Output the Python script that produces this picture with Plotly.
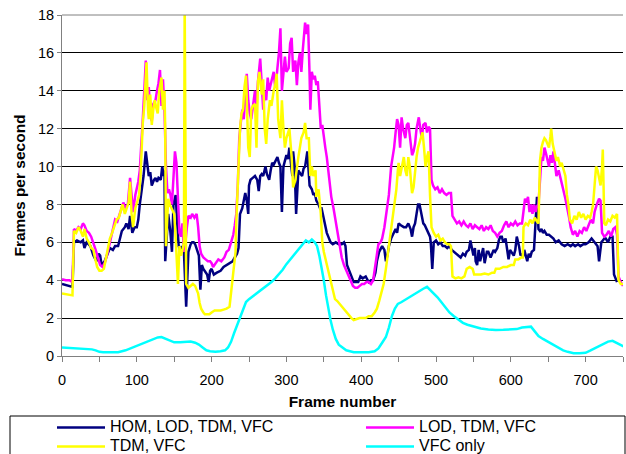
import plotly.graph_objects as go

# ---------------- data ----------------
hom_frames = [0,5,10,14,16,20,25,28,30,33,38,42,46,49,51,53,57,60,64,68,71,75,77,80,84,86,89,91,94,97,100,102,104,107,109,112,114,116,118,120,123,125,127,129,132,134,136,137,138,140,142,145,147,149,152,154,156,158,160,163,166,169,172,174,176,178,181,183,185,187,189,191,194,196,198,200,203,207,212,216,220,224,228,231,234,236,238,241,243,245,247,249,250,252,255,258,261,263,265,267,269,272,274,277,279,281,283,286,288,290,292,294,296,298,300,302,304,306,308,309,311,313,316,319,321,323,325,328,331,334,336,338,340,343,345,347,350,352,354,356,359,362,366,370,374,377,379,381,383,385,388,390,393,396,399,402,406,410,413,416,419,421,424,426,428,431,433,435,437,440,443,446,448,450,453,457,460,463,466,468,470,472,474,476,478,479,481,483,485,487,490,492,493,495,497,500,503,506,509,512,515,518,521,524,527,530,533,536,539,541,544,546,548,550,552,553,555,557,559,561,563,565,568,570,573,575,577,579,582,584,586,588,590,593,595,597,599,601,604,606,608,611,613,614,616,618,620,622,624,626,628,631,633,635,637,639,641,643,645,648,651,654,657,660,664,668,672,676,680,683,686,690,693,697,700,704,708,712,716,718,720,721,723,725,727,730,733,736,738,740,742,744,747,750]
hom_fps = [3.8,3.75,3.7,3.65,6.0,6.1,6.0,6.1,5.7,6.0,5.8,5.3,5.0,5.4,5.3,4.8,5.0,5.3,5.7,5.6,5.8,5.8,6.2,6.6,6.8,7.0,6.7,7.4,6.5,6.8,6.8,7.2,8.0,8.8,9.5,10.8,10.0,9.5,9.7,9.0,9.3,9.4,9.2,9.4,9.3,10.0,9.5,9.8,5.0,6.0,7.5,6.5,5.5,8.0,8.5,7.0,5.8,5.6,5.8,5.5,2.6,5.5,5.9,6.0,6.0,5.9,5.5,5.3,3.5,4.8,4.6,4.5,4.3,3.9,4.5,4.6,4.3,4.4,4.5,4.7,4.8,4.9,5.0,5.2,5.4,5.7,7.5,7.8,8.3,8.6,8.2,7.5,9.0,9.3,9.4,9.5,9.3,8.7,9.5,9.6,9.5,10.0,9.6,9.3,9.8,10.2,10.1,10.4,10.5,10.2,10.0,7.6,10.0,10.3,10.6,10.4,11.0,10.2,9.5,10.8,10.0,7.5,9.8,9.6,9.5,9.9,10.0,10.8,9.0,8.8,8.5,8.6,8.2,8.0,7.8,7.8,7.2,7.0,6.5,6.3,6.0,5.9,6.0,5.9,5.9,6.0,5.8,4.8,4.6,4.3,4.0,3.9,3.9,3.9,4.2,4.1,4.2,3.9,4.0,4.0,4.4,5.0,5.5,5.7,5.8,5.6,5.0,5.3,5.8,6.2,6.5,6.7,6.5,7.0,6.9,6.8,6.8,7.0,6.7,6.3,6.8,7.0,7.5,8.0,8.0,7.8,7.5,7.0,6.9,6.7,6.5,6.3,6.0,4.6,6.0,6.1,5.9,6.0,5.8,5.8,5.7,5.8,5.6,5.5,5.4,5.3,5.2,5.4,5.3,5.5,5.6,6.1,5.7,5.3,5.7,5.0,4.8,5.6,5.0,5.4,5.7,4.9,5.5,5.5,5.2,5.4,5.6,5.5,5.7,6.1,6.3,6.3,6.0,6.2,5.6,5.1,5.6,5.5,5.3,5.6,6.3,5.8,5.3,5.4,5.2,5.6,5.3,5.0,5.4,5.2,5.5,5.6,7.0,8.4,6.7,6.6,6.7,6.5,6.6,6.4,6.4,6.3,6.2,6.0,6.1,5.9,5.8,5.9,5.8,5.9,5.8,5.9,5.8,5.9,5.9,6.0,6.2,6.0,5.8,5.0,5.9,6.0,6.1,6.2,6.2,6.0,6.3,6.3,4.3,4.1,3.9]

lod_frames = [0,5,10,14,16,19,22,25,28,30,33,36,39,42,45,48,51,54,57,60,63,66,69,71,74,77,80,82,85,88,91,93,95,98,100,102,104,106,108,110,112,114,116,118,120,122,125,127,129,131,133,135,137,139,141,143,145,147,149,151,153,155,157,159,161,163,165,167,169,172,174,177,180,182,184,186,189,192,195,198,200,202,205,209,213,217,220,223,226,229,231,233,235,237,239,241,243,245,247,249,251,253,256,258,260,262,265,267,269,271,273,275,277,280,283,285,287,290,292,294,296,298,300,303,305,307,309,312,314,316,318,320,322,325,327,329,331,332,334,336,338,340,342,344,346,348,350,352,354,356,358,360,363,365,367,370,372,374,377,380,383,386,389,392,395,398,401,404,407,410,413,416,418,420,423,426,428,431,434,437,440,442,444,446,448,450,452,454,456,459,461,463,465,468,470,472,474,477,479,481,483,486,488,490,492,494,496,499,502,505,508,511,514,517,520,522,525,528,531,534,537,540,543,546,549,552,555,558,561,564,567,570,573,576,579,582,585,588,591,594,597,600,603,606,609,612,615,617,619,621,623,625,627,629,631,633,635,637,639,641,643,645,647,649,651,653,655,657,659,661,664,667,670,673,676,678,680,683,686,689,692,695,698,701,704,707,710,712,715,718,720,722,725,728,731,734,737,740,742,744,747,750]
lod_fps = [4.05,4.0,4.0,3.9,6.7,6.6,6.8,6.7,7.0,6.9,6.6,6.5,6.3,6.0,5.6,5.2,4.8,4.7,4.9,5.3,5.8,6.3,6.9,7.2,7.1,7.5,7.8,8.1,7.8,8.0,9.4,8.5,7.6,8.5,8.8,9.2,9.8,11.0,12.5,14.0,15.6,13.5,14.2,13.0,12.4,13.3,13.5,14.0,14.4,15.1,13.2,14.6,13.0,10.0,8.6,8.8,8.5,8.0,9.5,10.8,10.2,7.8,6.5,6.3,7.0,5.5,6.0,6.8,7.4,7.3,7.5,7.3,7.5,6.8,5.8,5.4,5.2,5.1,5.0,5.0,4.9,4.7,4.9,5.1,5.0,5.2,5.5,5.6,6.0,6.4,6.9,7.5,9.0,11.5,12.3,13.0,12.5,14.0,14.9,13.5,12.8,12.5,13.5,14.0,13.2,14.5,15.7,14.0,13.0,14.0,13.5,14.7,14.0,14.5,15.0,14.2,14.8,16.0,17.3,14.0,15.0,15.8,15.0,15.2,16.5,16.8,15.0,15.6,14.3,15.5,16.0,15.0,16.2,17.6,17.0,17.5,14.8,13.0,15.0,14.6,14.8,14.3,14.5,13.5,12.0,12.2,11.5,11.0,10.5,9.8,9.0,8.4,7.8,7.3,7.0,6.3,5.8,5.2,4.8,4.5,4.2,4.0,3.7,3.6,3.6,3.7,3.8,3.8,3.9,3.9,3.8,4.0,4.5,5.0,5.9,6.0,6.2,6.8,7.6,8.5,10.0,10.5,11.0,11.8,12.5,12.2,11.0,12.6,12.0,11.5,12.2,12.3,11.5,10.6,10.8,11.2,12.0,12.6,12.0,11.5,12.2,12.3,11.8,12.1,12.0,9.3,9.0,8.8,8.9,8.6,8.8,8.6,8.5,8.6,8.6,7.4,7.2,7.0,7.1,6.9,7.1,6.9,6.8,7.0,6.7,6.9,6.8,6.7,6.9,6.6,6.8,6.7,6.9,6.6,6.5,6.3,6.5,6.6,6.9,7.1,6.8,7.0,6.9,7.1,6.9,7.0,7.0,7.8,8.3,8.1,8.4,7.6,8.0,7.5,8.0,7.6,7.9,8.0,9.5,10.5,10.3,11.0,10.7,10.4,10.0,10.6,10.2,10.8,10.0,9.5,9.8,9.2,8.8,8.3,7.8,7.3,6.8,6.4,6.6,6.3,6.6,6.5,6.8,6.6,6.9,7.2,7.0,7.6,8.0,8.3,8.2,6.5,6.3,6.4,6.6,6.3,6.7,6.8,6.4,4.2,3.9,3.7]

tdm_frames = [0,5,10,14,16,19,22,25,28,30,33,36,39,42,44,47,50,53,56,58,61,64,67,70,73,76,79,81,84,87,89,91,93,95,98,101,103,105,107,108,110,111,113,115,116,118,120,122,124,126,128,130,133,135,137,138,139,141,142,144,146,148,150,152,153,155,157,159,161,163,164,166,169,172,175,178,180,182,184,186,189,191,194,197,200,204,208,212,216,220,224,226,228,230,232,233,235,236,238,240,242,244,246,248,249,251,253,255,258,260,262,264,266,267,269,271,273,275,278,280,283,285,287,289,292,294,296,298,300,302,304,307,309,312,314,316,318,320,323,325,327,330,332,334,336,339,340,343,346,348,350,353,356,358,360,363,365,368,370,374,378,383,387,390,394,398,402,406,410,414,418,421,424,427,430,433,436,439,442,445,447,449,450,452,455,457,459,461,463,465,467,468,470,472,474,476,479,481,482,484,486,488,490,492,494,497,500,503,506,509,512,515,518,520,522,526,530,534,538,541,545,549,551,555,560,565,570,575,578,580,585,590,595,600,604,606,610,614,616,617,620,623,626,629,632,635,637,639,641,643,645,647,649,651,653,654,656,658,661,663,666,668,671,673,675,677,679,682,685,688,691,694,697,700,703,706,708,710,712,714,716,718,720,722,723,724,725,727,730,733,736,739,742,744,747,750]
tdm_fps = [3.3,3.25,3.2,3.2,6.6,6.5,6.8,6.6,6.3,6.7,6.2,6.0,5.7,5.6,5.2,4.7,4.5,4.5,4.6,5.0,5.6,6.2,6.5,6.9,7.2,7.3,7.8,8.0,7.5,7.9,8.1,9.2,7.5,6.8,7.8,8.2,8.5,9.5,11.5,12.3,13.2,14.0,15.5,13.0,12.5,13.8,12.2,13.0,13.5,13.1,12.8,14.0,14.7,13.0,14.0,12.0,5.8,7.5,8.3,8.0,7.8,7.6,7.5,6.2,5.5,3.8,5.8,5.3,5.6,6.0,18.8,3.8,3.6,3.7,3.8,3.7,3.5,3.3,2.8,2.5,2.3,2.2,2.2,2.2,2.3,2.4,2.4,2.4,2.45,2.5,2.6,3.3,3.8,4.5,5.5,7.0,8.5,10.0,12.0,12.8,13.0,14.2,14.8,12.5,11.0,10.5,13.0,13.2,13.3,11.0,14.5,15.0,14.2,13.8,14.6,12.0,11.2,12.5,13.5,13.2,14.0,14.3,14.9,12.5,11.5,13.5,12.0,11.0,11.5,11.8,12.0,10.5,8.9,9.3,10.0,10.5,11.0,11.5,11.8,12.3,11.5,11.5,9.5,10.0,9.5,9.8,8.4,8.8,7.5,6.0,5.5,5.0,4.6,4.2,3.9,3.3,3.0,2.9,2.8,2.6,2.4,2.2,2.0,1.9,1.95,2.0,2.0,2.0,2.1,2.1,2.3,2.5,2.9,3.3,3.8,4.6,5.5,6.3,7.3,8.0,8.8,9.8,10.2,9.5,10.0,10.5,9.8,9.5,10.5,10.0,9.0,8.6,8.9,9.8,10.5,11.0,11.4,11.6,11.8,11.0,10.0,10.5,10.8,8.5,6.8,6.5,6.3,6.4,6.1,6.2,6.0,5.9,5.9,5.8,4.2,4.1,4.15,4.1,4.2,4.6,4.7,4.6,4.3,4.3,4.3,4.35,4.3,4.4,4.4,4.6,4.6,4.7,4.7,4.8,4.8,5.1,5.1,5.2,5.2,6.8,7.0,6.9,7.2,7.0,7.3,7.1,7.0,10.3,11.0,11.3,11.5,11.4,11.2,11.0,11.6,12.0,11.2,10.8,10.3,10.5,10.0,10.2,9.8,9.5,8.5,8.0,7.2,7.0,7.4,7.2,7.6,7.3,7.5,7.2,7.4,7.3,7.6,8.0,9.0,10.0,9.8,9.3,9.0,10.0,10.9,9.0,7.0,6.9,7.2,7.1,7.4,7.3,7.5,4.0,3.8,3.8]

vfc_frames = [0,10,20,30,40,45,50,55,65,75,85,95,105,115,122,128,133,138,145,150,158,165,172,178,183,188,193,198,205,212,218,222,226,230,234,238,242,246,250,255,260,265,270,275,280,285,290,295,300,305,310,315,319,322,326,330,334,338,341,344,347,350,353,356,359,362,366,370,375,380,385,390,400,410,418,423,428,433,437,441,445,449,454,460,466,472,478,483,488,492,497,502,507,512,518,524,530,536,542,550,560,570,580,590,600,608,615,622,627,632,637,643,650,657,664,670,676,684,692,700,706,712,718,724,730,736,741,746,751]
vfc_fps = [0.45,0.42,0.42,0.4,0.35,0.3,0.22,0.2,0.2,0.2,0.3,0.45,0.6,0.75,0.85,0.98,1.0,0.92,0.8,0.72,0.72,0.75,0.76,0.7,0.6,0.45,0.3,0.25,0.22,0.25,0.3,0.45,0.75,1.2,1.6,2.1,2.5,2.85,3.0,3.15,3.3,3.45,3.6,3.75,3.9,4.1,4.3,4.55,4.85,5.1,5.3,5.6,5.8,5.95,6.1,6.0,6.15,6.0,5.8,5.3,4.7,4.0,3.2,2.5,1.9,1.4,0.9,0.6,0.45,0.3,0.25,0.2,0.2,0.2,0.25,0.4,0.7,1.0,1.5,2.1,2.5,2.75,2.85,3.0,3.15,3.3,3.45,3.55,3.65,3.5,3.3,3.1,2.85,2.6,2.3,2.1,1.9,1.75,1.65,1.55,1.45,1.4,1.37,1.38,1.4,1.42,1.5,1.55,1.55,1.3,1.05,0.9,0.75,0.6,0.45,0.3,0.22,0.15,0.15,0.17,0.28,0.4,0.55,0.68,0.76,0.8,0.72,0.6,0.5]

series_names = ["HOM, LOD, TDM, VFC", "LOD, TDM, VFC", "TDM, VFC", "VFC only"]
series_colors = ["#000080", "#FF00FF", "#FFFF00", "#00FFFF"]
series_legend = ["legend", "legend2", "legend", "legend2"]
x_tick_values = [0, 100, 200, 300, 400, 500, 600, 700]
y_tick_values = [0, 2, 4, 6, 8, 10, 12, 14, 16, 18]

FONT = "Arial, Liberation Sans, sans-serif"

# pixel geometry helpers (plot area: x 62..623, y 15..356)
PL, PR, PT, PB = 62, 623, 15, 356
def px_x(p):
    return (p - PL) / (PR - PL)
def px_y(p):
    return (PB - p) / (PB - PT)

fig = go.Figure()
for name, color, leg, xs, ys in zip(series_names, series_colors, series_legend,
                                    [hom_frames, lod_frames, tdm_frames, vfc_frames],
                                    [hom_fps, lod_fps, tdm_fps, vfc_fps]):
    fig.add_trace(go.Scatter(x=xs, y=ys, mode="lines",
                             name='<span style="font-size:16px">' + name + '</span>',
                             legend=leg, line=dict(color=color, width=2.5)))

# legend frame (box below the plot)
fig.add_shape(type="rect", xref="paper", yref="paper",
              x0=px_x(10), x1=px_x(625), y0=px_y(480), y1=px_y(416),
              line=dict(color="black", width=1), fillcolor="rgba(0,0,0,0)")
# top border of plot area
fig.add_shape(type="line", xref="paper", yref="paper", x0=0, x1=1, y0=1, y1=1,
              line=dict(color="#808080", width=1))

legend_common = dict(orientation="v", xanchor="left", yanchor="top",
                     itemwidth=48, tracegroupgap=0,
                     font=dict(family=FONT, size=12, color="black"),
                     bgcolor="rgba(0,0,0,0)", borderwidth=0)

fig.update_layout(
    width=626, height=454,
    margin=dict(l=PL, r=626 - PR, t=PT, b=454 - PB, autoexpand=False),
    paper_bgcolor="white", plot_bgcolor="white",
    font=dict(family=FONT, size=14, color="black"),
    showlegend=True,
    legend=dict(x=px_x(52), y=px_y(413), **legend_common),
    legend2=dict(x=px_x(361), y=px_y(413), **legend_common),
    xaxis=dict(range=[0, 750], tickmode="array", tickvals=x_tick_values,
               showgrid=False, zeroline=False,
               showline=True, linecolor="#808080", linewidth=1,
               ticks="outside", ticklen=5, tickcolor="#808080",
               ticklabelstandoff=6,
               minor=dict(dtick=50, ticks="outside", ticklen=5, tickcolor="#808080", showgrid=False),
               tickfont=dict(family=FONT, size=14.5),
               title=dict(text="<b>Frame number</b>", font=dict(family=FONT, size=15.5), standoff=8)),
    yaxis=dict(range=[0, 18], tickmode="array", tickvals=y_tick_values,
               showgrid=True, gridcolor="black", gridwidth=1, zeroline=False,
               showline=True, linecolor="#808080", linewidth=1,
               ticks="outside", ticklen=4, tickcolor="#808080",
               tickfont=dict(family=FONT, size=14.5),
               title=dict(text="<b>Frames per second</b>", font=dict(family=FONT, size=15.5), standoff=8)),
)

fig.write_html("out.html", config={"displayModeBar": False},
               post_script="document.body.style.margin='0px';")
